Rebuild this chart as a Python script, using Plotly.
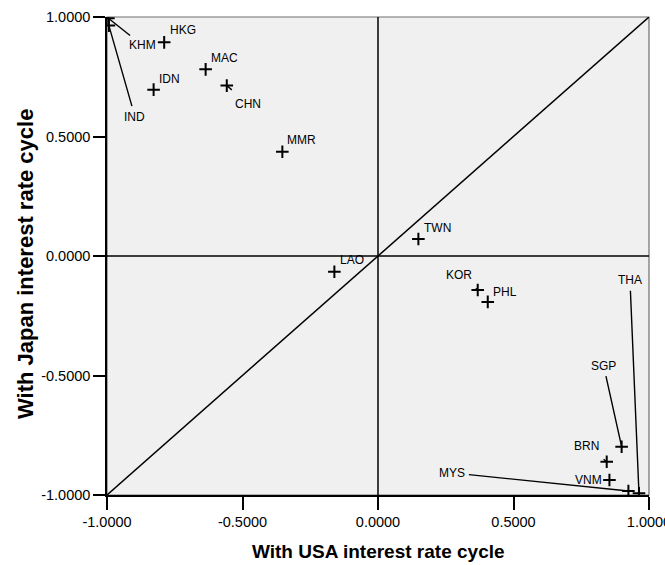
import plotly.graph_objects as go

# Correlation of each economy's interest rate cycle with the USA and Japan cycles
countries = ["KHM", "IND", "HKG", "MAC", "IDN", "CHN", "MMR", "TWN", "LAO",
             "KOR", "PHL", "THA", "SGP", "BRN", "VNM", "MYS"]
with_usa = [-0.995, -0.993, -0.789, -0.636, -0.828, -0.558, -0.353, 0.149, -0.161,
            0.368, 0.405, 0.963, 0.899, 0.844, 0.854, 0.924]
with_japan = [0.995, 0.964, 0.894, 0.781, 0.696, 0.713, 0.436, 0.071, -0.066,
              -0.142, -0.192, -0.993, -0.798, -0.861, -0.937, -0.983]

x_ticks = [-1.0, -0.5, 0.0, 0.5, 1.0]
y_ticks = [-1.0, -0.5, 0.0, 0.5, 1.0]

# label placement (pixel offset of label centre from its point, leader line flag)
label_offsets = {
    "KHM": (34, 27, True), "IND": (26, 91, True), "HKG": (19, -12, False),
    "MAC": (19, -11, False), "IDN": (16, -11, False), "CHN": (21, 18, True),
    "MMR": (19, -12, False), "TWN": (19, -11, False), "LAO": (18, -12, False),
    "KOR": (-19, -15, True), "PHL": (17, -10, False), "THA": (-9, -213, True),
    "SGP": (-18, -81, True), "BRN": (-20, -16, True), "VNM": (-21, 0, False),
    "MYS": (-176, -18, True),
}
short_leaders = {"CHN", "KOR", "BRN"}

FONT = "Liberation Sans, Arial, Helvetica, sans-serif"

fig = go.Figure()

# reference lines: axes through origin and the diagonal
fig.add_trace(go.Scatter(x=[-1, 1], y=[-1, 1], mode="lines",
                         line=dict(color="black", width=1.5),
                         hoverinfo="skip", showlegend=False))
fig.add_shape(type="line", x0=0, x1=0, y0=-1, y1=1, xref="x", yref="y",
              line=dict(color="black", width=1.5))
fig.add_shape(type="line", x0=-1, x1=1, y0=0, y1=0, xref="x", yref="y",
              line=dict(color="black", width=1.5))

fig.add_trace(go.Scatter(
    x=with_usa, y=with_japan, mode="markers", text=countries,
    marker=dict(symbol="cross-thin", size=9, line=dict(color="black", width=2)),
    showlegend=False))

for c, xv, yv in zip(countries, with_usa, with_japan):
    dx, dy, leader = label_offsets[c]
    if leader:
        fig.add_annotation(x=xv, y=yv, text=c, showarrow=True, ax=dx, ay=dy,
                           arrowhead=0, arrowwidth=1.4, arrowcolor="black",
                           startstandoff=8 if c in short_leaders else 2,
                           font=dict(family=FONT, size=12, color="black"))
    else:
        fig.add_annotation(x=xv, y=yv, text=c, showarrow=False,
                           xshift=dx, yshift=-dy,
                           font=dict(family=FONT, size=12, color="black"))

# plot frame (top/right edges grey)
fig.add_shape(type="rect", xref="paper", yref="paper", x0=0, x1=1, y0=0, y1=1,
              line=dict(color="#6e6e6e", width=1.2), layer="below")

fig.add_annotation(text="<b>With USA interest rate cycle</b>", xref="paper", yref="paper",
                   x=0.5, y=0, yshift=-56, showarrow=False, yanchor="middle",
                   font=dict(family=FONT, size=19, color="black"))
fig.add_annotation(text="<b>With Japan interest rate cycle</b>", xref="paper", yref="paper",
                   x=0, y=0.5, xshift=-82, yshift=-8, showarrow=False, textangle=-90,
                   xanchor="center", yanchor="middle",
                   font=dict(family=FONT, size=22, color="black"))

axis_common = dict(range=[-1, 1], showgrid=False, zeroline=False, showline=True,
                   linecolor="black", linewidth=1.5, ticks="outside",
                   tickwidth=1.5, tickcolor="black", automargin=False,
                   ticklabeloverflow="allow",
                   tickfont=dict(family=FONT, size=14.5, color="black"))
fig.update_xaxes(tickvals=x_ticks, ticktext=[f"{v:.4f}" for v in x_ticks],
                 ticklen=13, **axis_common)
fig.update_yaxes(tickvals=y_ticks, ticktext=[f"{v:.4f}" for v in y_ticks],
                 ticklen=12, **axis_common)

fig.update_layout(width=665, height=565, margin=dict(l=107, r=16, t=17, b=70),
                  plot_bgcolor="#f0f0f0", paper_bgcolor="white",
                  font=dict(family=FONT))

fig.write_html("out.html")
